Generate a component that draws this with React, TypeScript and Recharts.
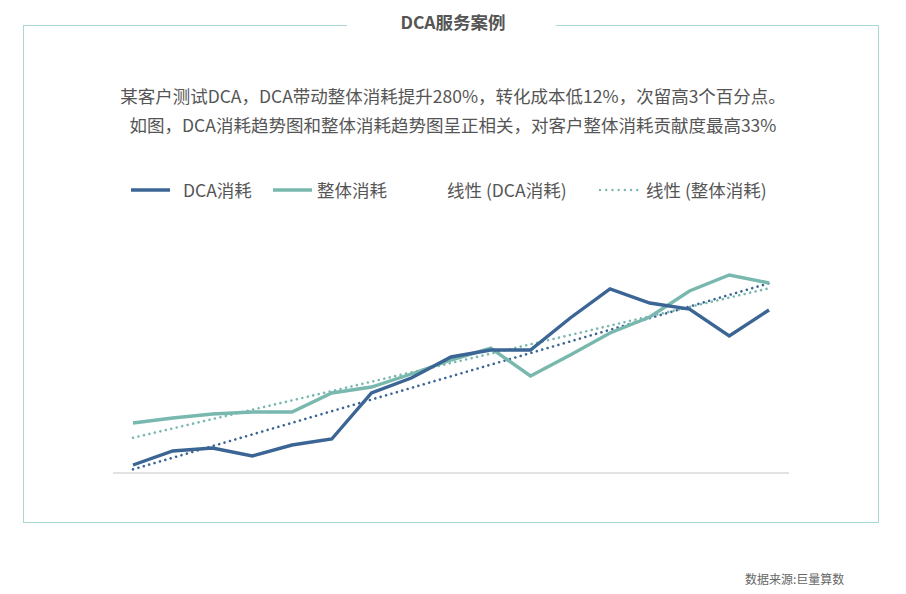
import { LineChart, Line, XAxis, YAxis, ReferenceLine } from 'recharts'

// 17 periods, values (0 = axis line)
const periods = ['1', '2', '3', '4', '5', '6', '7', '8', '9', '10', '11', '12', '13', '14', '15', '16', '17']
const dcaSpend = [4, 11, 12.5, 8.5, 14, 17, 40, 47.5, 58, 61.5, 61.5, 77.5, 92, 85, 82, 68.5, 81.5]
const totalSpend = [25, 27.5, 29.5, 30.5, 30.5, 40, 43, 49.5, 56.5, 62.5, 48.5, 59, 70, 78, 91, 99, 95]

const introLines = [
  '某客户测试DCA，DCA带动整体消耗提升280%，转化成本低12%，次留高3个百分点。',
  '如图，DCA消耗趋势图和整体消耗趋势图呈正相关，对客户整体消耗贡献度最高33%',
]

const DARK = '#3b6594'
const TEAL = '#78b8ae'
const FONT = '"Noto Sans CJK SC", "Noto Sans", sans-serif'

// least-squares trend, like the spreadsheet's linear trendline
function linearTrend(values: number[]) {
  const n = values.length
  const mx = (n - 1) / 2
  const my = values.reduce((a, b) => a + b, 0) / n
  let sxy = 0
  let sxx = 0
  values.forEach((v, i) => {
    sxy += (i - mx) * (v - my)
    sxx += (i - mx) * (i - mx)
  })
  const slope = sxy / sxx
  return values.map((_, i) => my + slope * (i - mx))
}

const dcaTrend = linearTrend(dcaSpend)
const totalTrend = linearTrend(totalSpend)

const data = periods.map((p, i) => ({
  period: p,
  dca: dcaSpend[i],
  total: totalSpend[i],
  dcaTrend: dcaTrend[i],
  totalTrend: totalTrend[i],
}))

const legendItems = [
  { label: 'DCA消耗', icon: 'solid', color: DARK, iconX: 131, textX: 183 },
  { label: '整体消耗', icon: 'solid', color: TEAL, iconX: 273, textX: 317 },
  { label: '线性 (DCA消耗)', icon: 'none', color: DARK, iconX: 400, textX: 447 },
  { label: '线性 (整体消耗)', icon: 'dot', color: TEAL, iconX: 598, textX: 646 },
]

function LegendRow() {
  return (
    <div style={{ position: 'absolute', left: 0, top: 177, width: 906, height: 26 }}>
      {legendItems.map((it) => (
        <div key={it.label}>
          <svg width={42} height={8} style={{ position: 'absolute', left: it.iconX, top: 9 }}>
            {it.icon === 'solid' && (
              <line x1={0} y1={4} x2={39} y2={4} stroke={it.color} strokeWidth={3.5} />
            )}
            {it.icon === 'dot' && (
              <line
                x1={2}
                y1={4}
                x2={40}
                y2={4}
                stroke={it.color}
                strokeWidth={2.4}
                strokeDasharray="0.01 6.2"
                strokeLinecap="round"
              />
            )}
          </svg>
          <span
            style={{
              position: 'absolute',
              left: it.textX,
              top: 0,
              lineHeight: '26px',
              fontSize: 17.5,
              color: '#555',
              whiteSpace: 'nowrap',
            }}
          >
            {it.label}
          </span>
        </div>
      ))}
    </div>
  )
}

export default function App() {
  return (
    <div
      style={{
        position: 'absolute',
        left: 0,
        top: 0,
        width: 906,
        height: 594,
        background: '#fff',
        fontFamily: FONT,
        overflow: 'hidden',
      }}
    >
      {/* frame */}
      <div
        style={{
          position: 'absolute',
          left: 23,
          top: 25,
          width: 854,
          height: 496,
          border: '1.5px solid #a9d8d2',
        }}
      />
      <div
        style={{
          position: 'absolute',
          left: 347,
          top: 14,
          width: 209,
          height: 22,
          background: '#fff',
        }}
      />
      <div
        style={{
          position: 'absolute',
          left: 0,
          top: 10,
          width: 906,
          textAlign: 'center',
          fontSize: 17.5,
          fontWeight: 700,
          color: '#555',
          lineHeight: '24px',
        }}
      >
        DCA服务案例
      </div>

      {introLines.map((t, i) => (
        <div
          key={i}
          style={{
            position: 'absolute',
            left: 0,
            top: 83 + i * 29,
            width: 906,
            textAlign: 'center',
            fontSize: 17.5,
            color: '#555',
            lineHeight: '26px',
            whiteSpace: 'nowrap',
          }}
        >
          {t}
        </div>
      ))}

      <LegendRow />

      <div style={{ position: 'absolute', left: 0, top: 0 }}>
        <LineChart
          width={906}
          height={594}
          data={data}
          margin={{ top: 273, right: 117, bottom: 120, left: 113 }}
        >
          <XAxis
            dataKey="period"
            height={1}
            tick={false}
            tickLine={false}
            axisLine={false}
            padding={{ left: 20, right: 20 }}
          />
          <YAxis hide domain={[0, 100]} />
          <ReferenceLine y={0} stroke="#d9d9d6" strokeWidth={1.5} />
          <Line
            dataKey="dcaTrend"
            stroke={DARK}
            strokeWidth={2.6}
            strokeDasharray="0.01 5.6"
            strokeLinecap="round"
            dot={false}
            isAnimationActive={false}
          />
          <Line
            dataKey="totalTrend"
            stroke={TEAL}
            strokeWidth={2.6}
            strokeDasharray="0.01 5.6"
            strokeLinecap="round"
            dot={false}
            isAnimationActive={false}
          />
          <Line
            dataKey="total"
            stroke={TEAL}
            strokeWidth={3.4}
            dot={false}
            isAnimationActive={false}
          />
          <Line
            dataKey="dca"
            stroke={DARK}
            strokeWidth={3.4}
            dot={false}
            isAnimationActive={false}
          />
        </LineChart>
      </div>

      <div
        style={{
          position: 'absolute',
          left: 745,
          top: 570,
          fontSize: 12,
          color: '#666',
          whiteSpace: 'nowrap',
        }}
      >
        数据来源:巨量算数
      </div>
    </div>
  )
}
